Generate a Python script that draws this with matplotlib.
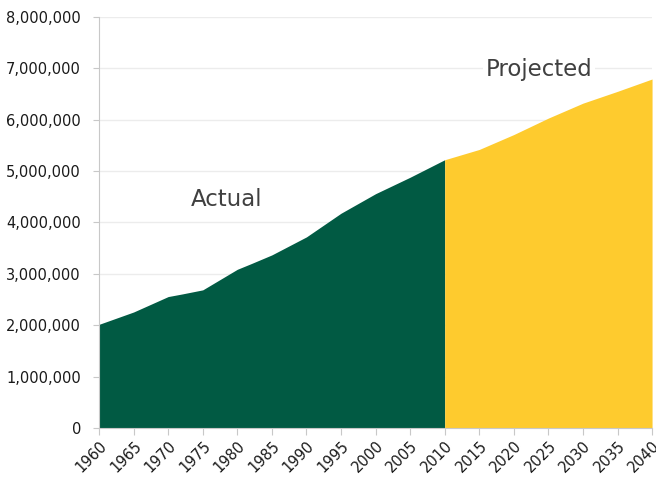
import matplotlib
matplotlib.use('Agg')
from matplotlib import pyplot as plt
from matplotlib.ticker import FuncFormatter

# population values
actual_years = [1960, 1965, 1970, 1972, 1975, 1980, 1982, 1985, 1990, 1995, 2000, 2005, 2010]
actual_pop = [2020000, 2260000, 2560000, 2610000, 2690000, 3090000, 3200000, 3370000, 3720000, 4180000,
              4560000, 4880000, 5220000]
proj_years = [2010, 2015, 2020, 2025, 2030, 2035, 2040]
proj_pop = [5220000, 5420000, 5710000, 6030000, 6320000, 6550000, 6790000]
tick_years = list(range(1960, 2041, 5))
y_ticks = list(range(0, 8000001, 1000000))

green = '#015a43'
yellow = '#fecb2e'
grid_col = '#ececec'
axis_col = '#c8c8c8'

fig = plt.figure(figsize=(6.56, 4.79), dpi=100)
ax = fig.add_axes([0.151, 0.106, 0.843, 0.859])

ax.fill_between(actual_years, actual_pop, 0, color=green, linewidth=0)
ax.fill_between(proj_years, proj_pop, 0, color=yellow, linewidth=0)

ax.set_xlim(1960, 2040)
ax.set_ylim(0, 8000000)
ax.set_xticks(tick_years)
ax.set_xticklabels([str(y) for y in tick_years], rotation=45, ha='right', rotation_mode='anchor',
                   fontsize=10.5, color='#1a1a1a')
ax.set_yticks(y_ticks)
ax.yaxis.set_major_formatter(FuncFormatter(lambda v, p: f'{int(v):,}'))
ax.tick_params(axis='y', labelsize=10.5, labelcolor='#1a1a1a', length=4, color=axis_col, pad=9)
ax.tick_params(axis='x', length=5, color=axis_col, pad=2)

ax.grid(axis='y', color=grid_col, linewidth=1)
ax.set_axisbelow(True)
for s in ['top', 'right']:
    ax.spines[s].set_visible(False)
ax.spines['left'].set_color(axis_col)
ax.spines['bottom'].set_color(axis_col)

ax.text(1978.5, 4.45e6, 'Actual', fontsize=16.5, color='#404040', ha='center', va='center')
ax.text(2023.6, 6.97e6, 'Projected', fontsize=16.5, color='#404040', ha='center', va='center',
        bbox=dict(facecolor='white', edgecolor='none', pad=2))

fig.savefig('out.png', dpi=100)
